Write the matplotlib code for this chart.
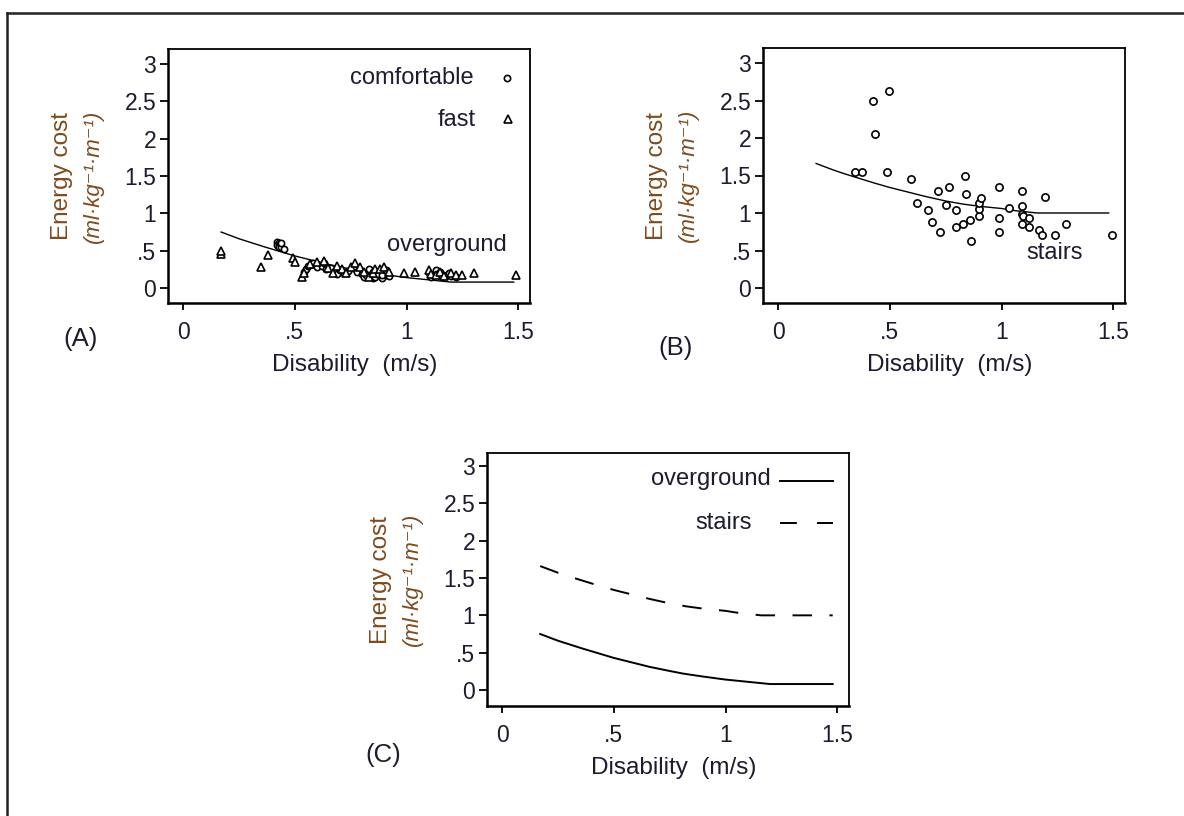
import matplotlib
matplotlib.use("Agg")
import matplotlib.pyplot as plt
from matplotlib.lines import Line2D

plt.rcParams['font.family'] = ['Liberation Sans', 'DejaVu Sans']

# ---------------- data ----------------
# Panel A: overground walking, comfortable (circles) and fast (triangles)
speed_comf = [0.42, 0.42, 0.43, 0.43, 0.43, 0.44, 0.44, 0.45, 0.54, 0.55, 0.56, 0.58,
              0.60, 0.62, 0.63, 0.64, 0.66, 0.68, 0.69, 0.70, 0.72, 0.74, 0.76, 0.78,
              0.80, 0.81, 0.82, 0.84, 0.85, 0.86, 0.87, 0.88, 0.89, 0.90, 0.91, 0.92,
              0.83, 0.85, 0.87, 0.89, 0.91, 1.10, 1.11, 1.12, 1.13, 1.15, 1.16, 1.18,
              1.19, 1.20, 1.22]
cost_comf = [0.62, 0.58, 0.60, 0.57, 0.55, 0.55, 0.60, 0.52, 0.22, 0.26, 0.30, 0.33,
             0.28, 0.30, 0.33, 0.25, 0.27, 0.22, 0.19, 0.24, 0.20, 0.23, 0.27, 0.22,
             0.19, 0.15, 0.17, 0.20, 0.14, 0.15, 0.21, 0.18, 0.14, 0.22, 0.18, 0.16,
             0.25, 0.21, 0.19, 0.17, 0.24, 0.20, 0.15, 0.17, 0.24, 0.22, 0.15, 0.18,
             0.20, 0.16, 0.15]
speed_fast = [0.17, 0.17, 0.35, 0.38, 0.49, 0.50, 0.53, 0.54, 0.57, 0.60, 0.63, 0.65,
              0.67, 0.69, 0.71, 0.73, 0.75, 0.77, 0.79, 0.81, 0.83, 0.85, 0.86, 0.88,
              0.90, 0.92, 0.99, 1.04, 1.10, 1.11, 1.13, 1.15, 1.17, 1.20, 1.22, 1.25,
              1.30, 1.49]
cost_fast = [0.46, 0.49, 0.28, 0.44, 0.40, 0.35, 0.15, 0.20, 0.32, 0.35, 0.36, 0.27,
             0.20, 0.30, 0.25, 0.20, 0.28, 0.33, 0.28, 0.22, 0.15, 0.20, 0.26, 0.25,
             0.28, 0.22, 0.20, 0.21, 0.24, 0.19, 0.17, 0.22, 0.16, 0.20, 0.18, 0.17,
             0.20, 0.17]

# Panel B: stairs
speed_stairs = [0.346, 0.376, 0.424, 0.434, 0.494, 0.487, 0.596, 0.622, 0.673, 0.691,
                0.715, 0.725, 0.751, 0.767, 0.794, 0.794, 0.828, 0.837, 0.843, 0.861,
                0.863, 0.897, 0.897, 0.899, 0.906, 0.991, 0.991, 0.991, 1.034, 1.093,
                1.093, 1.093, 1.097, 1.091, 1.121, 1.121, 1.170, 1.181, 1.197, 1.239,
                1.291, 1.497]
cost_stairs = [1.55, 1.55, 2.50, 2.06, 2.63, 1.55, 1.45, 1.14, 1.04, 0.88,
               1.30, 0.75, 1.11, 1.35, 1.04, 0.81, 0.86, 1.50, 1.25, 0.91,
               0.63, 0.96, 1.05, 1.13, 1.20, 1.35, 0.94, 0.75, 1.07, 1.30,
               1.10, 0.99, 0.96, 0.86, 0.94, 0.81, 0.77, 0.71, 1.22, 0.71,
               0.86, 0.71]

# Fitted curves
fit_speed_over = [0.17, 0.25, 0.36, 0.50, 0.58, 0.66, 0.75, 0.81, 0.90, 1.00, 1.10,
                  1.20, 1.48]
fit_cost_over = [0.75, 0.66, 0.555, 0.43, 0.37, 0.31, 0.255, 0.22, 0.18, 0.14, 0.11,
                 0.08, 0.08]
fit_speed_stairs = [0.17, 0.25, 0.30, 0.43, 0.50, 0.58, 0.66, 0.75, 0.825, 0.90, 1.00,
                    1.064, 1.16, 1.48]
fit_cost_stairs = [1.66, 1.57, 1.52, 1.40, 1.34, 1.28, 1.22, 1.16, 1.12, 1.09, 1.06,
                   1.03, 1.00, 1.00]

xticks = [0, 0.5, 1, 1.5]
xticklabels = ["0", ".5", "1", "1.5"]
yticks = [0, 0.5, 1, 1.5, 2, 2.5, 3]
yticklabels = ["0", ".5", "1", "1.5", "2", "2.5", "3"]

# ---------------- figure ----------------
W, H = 1184, 816
fig = plt.figure(figsize=(W / 100, H / 100), dpi=100)
fig.patch.set_facecolor("white")

TXT = "#1c1c30"
YLAB = "#7d4b1e"

def px_axes(left, top, right, bottom):
    return fig.add_axes([left / W, 1 - bottom / H, (right - left) / W, (bottom - top) / H])

def style(ax, ylim, label, label_xy):
    ax.set_xlim(-0.068, 1.553)
    ax.set_ylim(*ylim)
    ax.set_xticks(xticks)
    ax.set_xticklabels(xticklabels)
    ax.set_yticks(yticks)
    ax.set_yticklabels(yticklabels)
    for s in ax.spines.values():
        s.set_linewidth(1.3)
        s.set_color("black")
    ax.spines['left'].set_linewidth(1.8)
    ax.spines['bottom'].set_linewidth(1.8)
    ax.tick_params(axis='x', length=5, width=1.3, pad=8, labelsize=16.5, labelcolor=TXT)
    ax.tick_params(axis='y', length=5.5, width=1.3, pad=3, labelsize=16.5, labelcolor=TXT)
    ax.text(-0.292, 0.5, "Energy cost", transform=ax.transAxes, rotation=90,
            ha='center', va='center', fontsize=17.5, color=YLAB)
    ax.text(-0.207, 0.5, "(ml·kg⁻¹·m⁻¹)", transform=ax.transAxes, rotation=90,
            ha='center', va='center', fontsize=16, color=YLAB, style='italic',
            family=['Liberation Sans', 'DejaVu Sans'])
    ax.text(0.517, -0.245, "Disability  (m/s)", transform=ax.transAxes,
            ha='center', va='center', fontsize=17.5, color=TXT)
    fig.text(label_xy[0] / W, 1 - label_xy[1] / H, label, ha='center', va='center',
             fontsize=18.5, color=TXT)

MK = dict(linestyle='none', mfc='white', mec='black', mew=1.2)

# Panel A
axA = px_axes(168, 49, 530, 303)
axA.plot(fit_speed_over, fit_cost_over, color='black', lw=1.0)
axA.plot(speed_comf, cost_comf, marker='o', ms=4.5, **MK)
axA.plot(speed_fast, cost_fast, marker='^', ms=5.5, **MK)
axA.text(1.30, 2.81, "comfortable", ha='right', va='center', fontsize=17, color=TXT)
axA.plot([1.45], [2.81], marker='o', ms=4.5, **MK)
axA.text(1.31, 2.25, "fast", ha='right', va='center', fontsize=17, color=TXT)
axA.plot([1.455], [2.26], marker='^', ms=5.5, **MK)
axA.text(1.18, 0.58, "overground", ha='center', va='center', fontsize=17, color=TXT)
style(axA, (-0.2, 3.2), "(A)", (81, 339))

# Panel B
axB = px_axes(763, 48, 1125, 303)
axB.plot(fit_speed_stairs, fit_cost_stairs, color='black', lw=1.0)
axB.plot(speed_stairs, cost_stairs, marker='o', ms=5.2, **MK)
axB.text(1.24, 0.47, "stairs", ha='center', va='center', fontsize=17, color=TXT)
style(axB, (-0.2, 3.2), "(B)", (676, 348))

# Panel C
axC = px_axes(487, 453, 849, 706)
axC.plot(fit_speed_over, fit_cost_over, color='black', lw=1.4)
axC.plot(fit_speed_stairs, fit_cost_stairs, color='black', lw=1.4, dashes=(10, 9))
axC.text(1.203, 2.826, "overground", ha='right', va='center', fontsize=17, color=TXT)
axC.plot([1.244, 1.482], [2.80, 2.80], color='black', lw=1.4)
axC.text(1.118, 2.236, "stairs", ha='right', va='center', fontsize=17, color=TXT)
axC.plot([1.244, 1.482], [2.236, 2.236], color='black', lw=1.4, dashes=(8.7, 10.3))
style(axC, (-0.214, 3.174), "(C)", (383, 755))

# outer frame (top and left only, as cropped)
fig.add_artist(Line2D([6.5 / W, 6.5 / W], [0, 1 - 12.5 / H], transform=fig.transFigure,
                      color='#222222', lw=1.8))
fig.add_artist(Line2D([6.5 / W, 1], [1 - 12.5 / H, 1 - 12.5 / H], transform=fig.transFigure,
                      color='#222222', lw=1.8))

fig.savefig("out.png", dpi=100, facecolor="white")
